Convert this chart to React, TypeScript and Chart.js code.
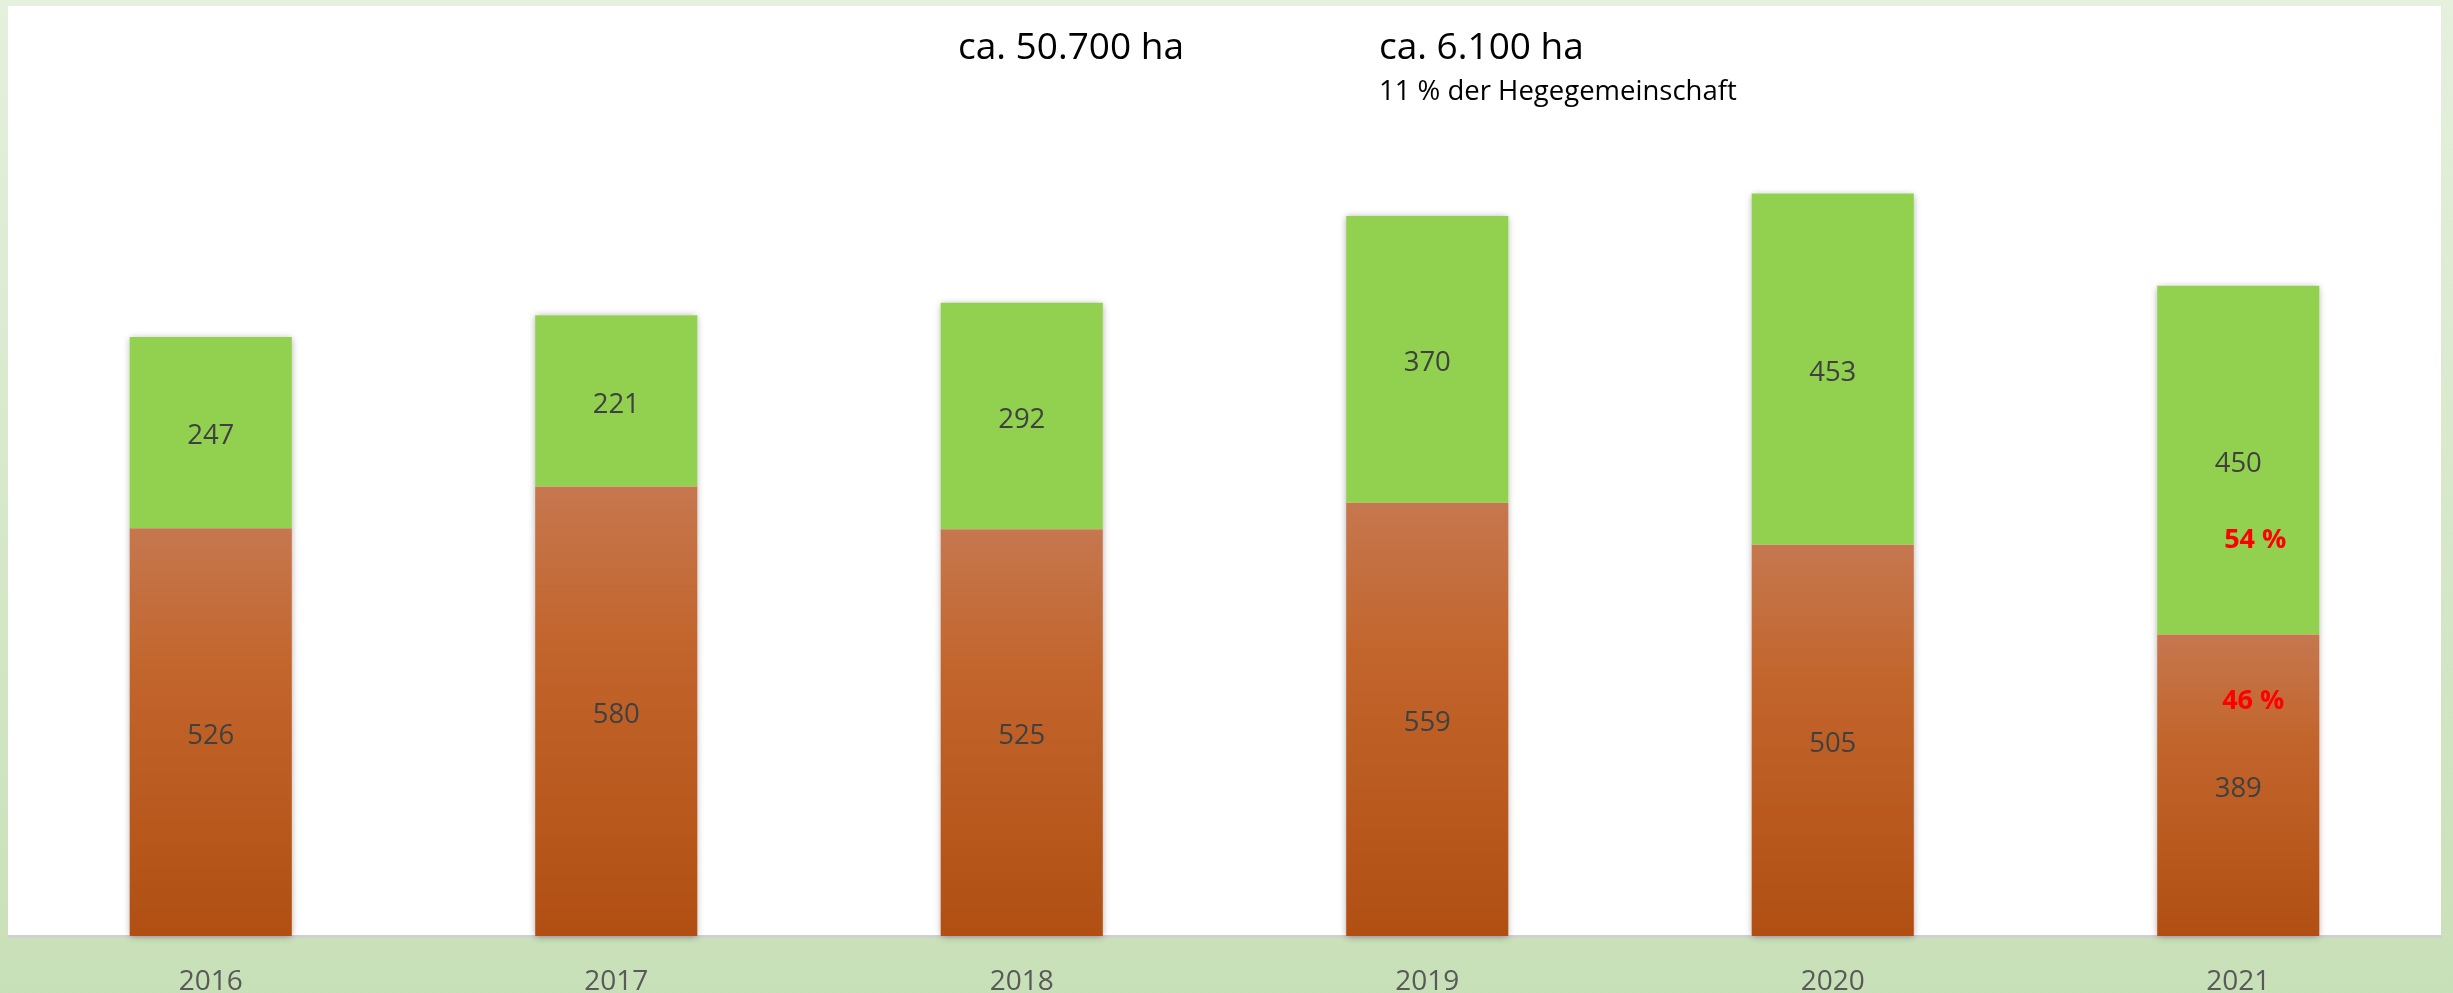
import React, { useEffect, useRef } from "react";
import { Chart, registerables } from "chart.js";

Chart.register(...registerables);

// ---- data ----
const years = ["2016", "2017", "2018", "2019", "2020", "2021"];
const brownValues = [526, 580, 525, 559, 505, 389];
const greenValues = [247, 221, 292, 370, 453, 450];
const headlineLeft = "ca. 50.700 ha";
const headlineRight = "ca. 6.100 ha";
const headlineRightSub = "11 % der Hegegemeinschaft";
const percentYearIndex = 5;

const FONT = "'Open Sans', 'Noto Sans', sans-serif";

const backgroundPlugin = {
  id: "bgPlugin",
  beforeDraw(chart: any) {
    const { ctx, width, height, chartArea } = chart;
    ctx.save();
    const g = ctx.createLinearGradient(0, 0, 0, height);
    g.addColorStop(0, "#e5f0dd");
    g.addColorStop(1, "#c8e0b8");
    ctx.fillStyle = g;
    ctx.fillRect(0, 0, width, height);
    ctx.fillStyle = "#ffffff";
    ctx.fillRect(chartArea.left, chartArea.top, chartArea.right - chartArea.left, chartArea.bottom - chartArea.top);
    ctx.restore();
  },
};

const shadowPlugin = {
  id: "stackShadow",
  beforeDatasetsDraw(chart: any) {
    const metas = chart.getSortedVisibleDatasetMetas();
    if (!metas.length) return;
    const { ctx } = chart;
    const n = metas[0].data.length;
    for (let i = 0; i < n; i++) {
      let top = Infinity;
      let base = -Infinity;
      let x = 0;
      let w = 0;
      metas.forEach((m: any) => {
        const el = m.data[i];
        if (!el) return;
        const p = el.getProps(["x", "y", "base", "width"], true);
        top = Math.min(top, p.y, p.base);
        base = Math.max(base, p.y, p.base);
        x = p.x;
        w = p.width;
      });
      ctx.save();
      ctx.shadowColor = "rgba(0,0,0,0.35)";
      ctx.shadowBlur = 7;
      ctx.shadowOffsetX = 0;
      ctx.shadowOffsetY = 1;
      ctx.fillStyle = "#ffffff";
      ctx.fillRect(x - w / 2, top, w, base - top);
      ctx.restore();
    }
  },
};

const labelPlugin = {
  id: "segmentLabels",
  afterDatasetsDraw(chart: any) {
    const { ctx } = chart;
    const metas = chart.getSortedVisibleDatasetMetas();
    ctx.save();
    ctx.textAlign = "center";
    ctx.textBaseline = "middle";
    ctx.font = `27.5px ${FONT}`;
    ctx.fillStyle = "#404040";
    metas.forEach((m: any) => {
      const values = chart.data.datasets[m.index].data;
      m.data.forEach((el: any, i: number) => {
        const p = el.getProps(["x", "y", "base"], true);
        ctx.fillText(String(values[i]), p.x, (p.y + p.base) / 2 + 4);
      });
    });

    // percentage labels for the last year
    const yScale = chart.scales.y;
    const b = brownValues[percentYearIndex];
    const gr = greenValues[percentYearIndex];
    const total = b + gr;
    const brownPct = Math.round((b / total) * 100);
    const greenPct = Math.round((gr / total) * 100);
    const el = metas[0].data[percentYearIndex];
    const px = el.getProps(["x"], true).x + 17;
    ctx.font = `bold 27px ${FONT}`;
    ctx.fillStyle = "#ff0000";
    ctx.fillText(`${greenPct} %`, px, yScale.getPixelForValue(b + gr * 0.28) + 3);
    ctx.fillText(`${brownPct} %`, px - 2, yScale.getPixelForValue(b * 0.79) + 3);
    ctx.restore();
  },
};

const headerPlugin = {
  id: "headerTexts",
  afterDraw(chart: any) {
    const { ctx } = chart;
    ctx.save();
    ctx.fillStyle = "#000000";
    ctx.textAlign = "left";
    ctx.textBaseline = "alphabetic";
    ctx.font = `37px ${FONT}`;
    ctx.fillText(headlineLeft, 958, 59);
    ctx.fillText(headlineRight, 1379, 59);
    ctx.font = `27.5px ${FONT}`;
    ctx.fillText(headlineRightSub, 1379, 100);
    ctx.restore();
  },
};

function brownGradient(context: any) {
  const chart = context.chart;
  const area = chart.chartArea;
  if (!area || context.type !== "data" || !chart.scales || !chart.scales.y) return "#c0601f";
  const yScale = chart.scales.y;
  const top = yScale.getPixelForValue(context.raw as number);
  const base = yScale.getPixelForValue(0);
  if (!isFinite(top) || !isFinite(base) || top === base) return "#c0601f";
  const g = chart.ctx.createLinearGradient(0, top, 0, base);
  g.addColorStop(0, "#c6774f");
  g.addColorStop(0.35, "#c2652c");
  g.addColorStop(1, "#b14f13");
  return g;
}

export default function App() {
  const ref = useRef<HTMLCanvasElement>(null);

  useEffect(() => {
    document.body.style.margin = "0";
    if (!ref.current) return;
    let alive = true;
    const chart = new Chart(ref.current, {
      type: "bar",
      data: {
        labels: years,
        datasets: [
          {
            label: "braun",
            data: brownValues,
            backgroundColor: brownGradient as any,
            borderWidth: 0,
            categoryPercentage: 0.4,
            barPercentage: 1,
          },
          {
            label: "grün",
            data: greenValues,
            backgroundColor: "#92d050",
            borderWidth: 0,
            categoryPercentage: 0.4,
            barPercentage: 1,
          },
        ],
      },
      options: {
        animation: false,
        responsive: false,
        devicePixelRatio: 1,
        layout: { padding: { left: 8, right: 12, top: 6, bottom: 0 } },
        plugins: {
          legend: { display: false },
          tooltip: { enabled: false },
          title: { display: false },
        },
        scales: {
          x: {
            stacked: true,
            grid: { display: false, drawTicks: false },
            border: { display: true, color: "#d0d0d0", width: 3 },
            ticks: {
              color: "#595959",
              font: { family: FONT, size: 28 },
              padding: 29,
            },
            afterFit: (scale: any) => {
              scale.height = 57;
            },
          },
          y: {
            stacked: true,
            display: false,
            min: 0,
            max: 1200,
          },
        },
      },
      plugins: [backgroundPlugin, shadowPlugin, labelPlugin, headerPlugin],
    });
    if ((document as any).fonts && (document as any).fonts.ready) {
      (document as any).fonts.ready.then(() => {
        if (alive) chart.update();
      });
    }
    return () => {
      alive = false;
      chart.destroy();
    };
  }, []);

  return (
    <canvas
      ref={ref}
      width={2453}
      height={993}
      style={{ display: "block", width: "2453px", height: "993px" }}
    />
  );
}
